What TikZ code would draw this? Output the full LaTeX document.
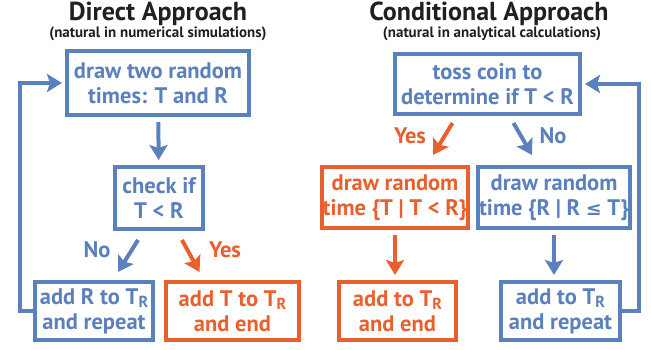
\documentclass[tikz,border=0pt]{standalone}
\usepackage{fontspec}
\setmainfont{PT Sans}
\newfontfamily\symbolfont{DejaVu Sans}
\usetikzlibrary{arrows.meta,calc}

\definecolor{flowblue}{RGB}{91,128,190}
\definecolor{floworange}{RGB}{232,96,46}
\definecolor{titlegray}{RGB}{35,31,32}

\newcommand{\TR}{T\raisebox{-3.5pt}{\fontsize{16}{16}\selectfont R}}
\newcommand{\lesseq}{{\symbolfont\fontsize{19}{25}\selectfont ≤}}

\tikzset{
  box/.style = {draw, line width=4pt, align=center, inner sep=1pt,
                font=\bfseries\fontsize{22.5}{25}\selectfont},
  bluebox/.style = {box, flowblue, text=flowblue},
  orangebox/.style = {box, floworange, text=floworange},
  flow/.style = {line width=4pt, -{Stealth[length=15pt,width=18pt,inset=3pt]}},
  answer/.style = {font=\bfseries\fontsize{22.5}{25}\selectfont},
  heading/.style = {text=titlegray, font=\bfseries\fontsize{26}{30}\selectfont},
  subheading/.style = {text=titlegray, font=\bfseries\fontsize{15}{17}\selectfont}
}

\begin{document}
\begin{tikzpicture}[x=1pt, y=-1pt]
\useasboundingbox (0,0) rectangle (651,349);

% direct approach
\node[heading] (titleL) at (158,14) {Direct Approach};
\node[subheading] (subL) at (158,34) {(natural in numerical simulations)};

\node[bluebox, minimum width=182pt, minimum height=64pt] (drawTwo) at (158,83) {draw two random\\times: T and R};
\node[bluebox, minimum width=88pt, minimum height=62pt] (checkIf) at (159,198) {check if\\T < R};
\node[bluebox, minimum width=118pt, minimum height=58pt] (addR) at (94,311) {add R to \TR\\and repeat};
\node[orangebox, minimum width=133pt, minimum height=58pt] (addT) at (232.5,311) {add T to \TR\\and end};

\draw[flow, flowblue, shorten <=5pt, shorten >=5pt] (drawTwo) -- (checkIf);
\draw[flow, flowblue] ($(checkIf.south)+(-21,9)$) -- ($(addR.north)+(24,-8)$);
\draw[flow, floworange] ($(checkIf.south)+(23,9)$) -- ($(addT.north)+(-33,-8)$);
\node[answer, text=flowblue] (noL) at (97,250) {No};
\node[answer, text=floworange] (yesL) at (225,250) {Yes};

\draw[flow, flowblue, line cap=rect] (addR.west) -- ++(-13,0) |- ([xshift=-3pt]drawTwo.west);

% conditional approach
\node[heading] (titleR) at (489,14) {Conditional Approach};
\node[subheading] (subR) at (492,34) {(natural in analytical calculations)};

\node[bluebox, minimum width=185pt, minimum height=60pt] (toss) at (487.5,84) {toss coin to\\determine if T < R};
\node[orangebox, minimum width=146pt, minimum height=61pt] (drawT) at (395,197.5) {draw random\\time \{T | T < R\}};
\node[bluebox, minimum width=148pt, minimum height=61pt] (drawR) at (554,197.5) {draw random\\time \{R | R \lesseq{} T\}};
\node[orangebox, minimum width=117pt, minimum height=58pt] (addH) at (397.5,311) {add to \TR\\and end};
\node[bluebox, minimum width=119pt, minimum height=58pt] (addI) at (560.5,311) {add to \TR\\and repeat};

\draw[flow, floworange] ($(toss.south)+(-35,7)$) -- ($(drawT.north)+(38,-10)$);
\draw[flow, flowblue] ($(toss.south)+(26,7)$) -- ($(drawR.north)+(-22,-10)$);
\node[answer, text=floworange] (yesR) at (410,136) {Yes};
\node[answer, text=flowblue] (noR) at (553,136) {No};

\draw[flow, floworange, shorten <=5pt, shorten >=5pt] (drawT.south) -- (addH.north -| drawT.south);
\draw[flow, flowblue, shorten <=5pt, shorten >=5pt] (drawR.south) -- (addI.north -| drawR.south);

\draw[flow, flowblue, line cap=rect] (addI.east) -- ++(17,0) |- ([xshift=3pt]toss.east);
\end{tikzpicture}
\end{document}
